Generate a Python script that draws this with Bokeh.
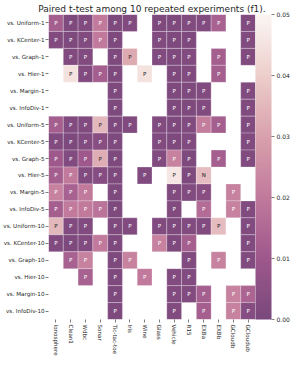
from bokeh.plotting import figure
from bokeh.models import ColumnDataSource, LinearColorMapper, ColorBar, FixedTicker, PrintfTickFormatter
from bokeh.core.properties import value
from bokeh.embed import file_html
from bokeh.resources import INLINE

title = "Paired t-test among 10 repeated experiments (f1)."

datasets = ["Ionosphere", "Clean1", "Wdbc", "Sonar", "Tic-tac-toe", "Iris", "Wine",
            "Glass", "Vehicle", "R15", "EXBa", "EXBb", "GCloudb", "GCloudub"]

comparisons = ["vs. Uniform-1", "vs. KCenter-1", "vs. Graph-1", "vs. Hier-1", "vs. Margin-1",
               "vs. InfoDiv-1", "vs. Uniform-5", "vs. KCenter-5", "vs. Graph-5", "vs. Hier-5",
               "vs. Margin-5", "vs. InfoDiv-5", "vs. Uniform-10", "vs. KCenter-10", "vs. Graph-10",
               "vs. Hier-10", "vs. Margin-10", "vs. InfoDiv-10"]

N = None
p_uniform_1  = [0.012, 0.001, 0.002, 0.020, 0.001, 0.002, N, 0.001, 0.001, 0.002, 0.002, 0.013, N, 0.002]
p_kcenter_1  = [0.002, 0.001, 0.002, 0.020, 0.001, N, N, 0.002, 0.001, 0.001, N, N, N, 0.002]
p_graph_1    = [N, 0.002, 0.002, N, 0.001, 0.032, N, 0.002, 0.001, 0.002, N, 0.012, N, 0.002]
p_hier_1     = [N, 0.045, 0.002, 0.012, 0.001, N, 0.045, N, 0.001, 0.002, N, 0.012, N, N]
p_margin_1   = [N, N, N, N, 0.001, N, N, N, 0.001, 0.001, 0.002, N, N, 0.002]
p_infodiv_1  = [N, N, N, N, 0.001, N, N, N, 0.001, 0.001, 0.002, N, N, 0.002]
p_uniform_5  = [0.012, 0.002, 0.002, 0.035, 0.001, 0.002, N, 0.002, 0.001, 0.002, 0.021, 0.012, N, 0.002]
p_kcenter_5  = [0.002, 0.001, 0.002, 0.004, 0.001, N, N, 0.002, 0.001, 0.002, N, N, N, 0.002]
p_graph_5    = [0.010, 0.002, 0.010, 0.033, 0.001, N, N, 0.002, 0.022, 0.001, N, 0.012, N, 0.002]
p_hier_5     = [0.012, 0.020, 0.002, 0.003, 0.001, N, 0.002, N, 0.046, 0.001, 0.036, N, N, N]
p_margin_5   = [0.022, 0.013, 0.020, N, 0.001, N, N, N, 0.002, 0.002, 0.004, N, 0.022, N]
p_infodiv_5  = [0.012, 0.020, 0.020, 0.018, 0.001, N, N, N, 0.002, N, 0.016, N, 0.022, 0.002]
p_uniform_10 = [0.035, 0.002, 0.002, N, 0.001, 0.002, N, 0.002, 0.001, 0.002, 0.002, 0.036, N, 0.002]
p_kcenter_10 = [0.002, 0.001, 0.002, 0.020, 0.001, N, N, 0.022, 0.001, 0.012, N, N, N, 0.002]
p_graph_10   = [N, 0.013, 0.022, N, 0.001, 0.022, N, N, N, 0.002, N, 0.022, N, 0.002]
p_hier_10    = [N, N, 0.013, N, 0.001, N, 0.020, N, 0.002, 0.002, N, N, N, N]
p_margin_10  = [N, N, N, N, 0.001, N, N, N, 0.002, 0.002, 0.012, N, 0.022, 0.014]
p_infodiv_10 = [N, N, N, N, 0.001, N, N, N, 0.002, N, 0.012, N, 0.022, 0.003]

p_values = [p_uniform_1, p_kcenter_1, p_graph_1, p_hier_1, p_margin_1, p_infodiv_1,
            p_uniform_5, p_kcenter_5, p_graph_5, p_hier_5, p_margin_5, p_infodiv_5,
            p_uniform_10, p_kcenter_10, p_graph_10, p_hier_10, p_margin_10, p_infodiv_10]

# significance marks: "P" everywhere except the single "N" cell
marks_n = [("vs. Hier-5", "EXBa")]

colorbar_ticks = [0.00, 0.01, 0.02, 0.03, 0.04, 0.05]

# colour map anchors (dark purple -> near white)
anchors = [(0.000, (122, 72, 124)), (0.010, (158, 88, 140)), (0.020, (193, 122, 156)),
           (0.030, (217, 161, 172)), (0.040, (237, 206, 203)), (0.050, (251, 246, 243))]


def build_palette(n=256):
    out = []
    for i in range(n):
        v = 0.05 * i / (n - 1)
        for (a, ca), (b, cb) in zip(anchors[:-1], anchors[1:]):
            if a <= v <= b:
                t = (v - a) / (b - a)
                c = [round(ca[k] + (cb[k] - ca[k]) * t) for k in range(3)]
                out.append("#%02x%02x%02x" % tuple(c))
                break
    return out


palette = build_palette()
mapper = LinearColorMapper(palette=palette, low=0.0, high=0.05)

xs, ys, vals, labs, tcols = [], [], [], [], []
for r, row in zip(comparisons, p_values):
    for c, v in zip(datasets, row):
        if v is None:
            continue
        xs.append(c)
        ys.append(r)
        vals.append(v)
        labs.append("N" if (r, c) in marks_n else "P")
        tcols.append("#262626" if v > 0.028 else "white")

src = ColumnDataSource(dict(x=xs, y=ys, v=vals, lab=labs, tc=tcols))

FONT = "DejaVu Sans"
p = figure(width=292, height=358, x_range=datasets, y_range=list(reversed(comparisons)),
           output_backend="svg", toolbar_location=None, title=title,
           min_border_left=0, min_border_right=0, min_border_top=0, min_border_bottom=0)
p.title.text_font = FONT
p.title.text_font_size = "9px"
p.title.text_font_style = "normal"
p.title.align = "center"
p.title.standoff = 2
p.title.text_color = "#262626"

p.rect(x="x", y="y", width=1, height=1, source=src,
       fill_color={"field": "v", "transform": mapper},
       line_color="white", line_width=0.6, line_alpha=0.45)
p.text(x="x", y="y", text="lab", source=src, text_align="center", text_baseline="middle",
       text_font_size="5.5px", text_color="tc", text_font=value(FONT))

for ax in (p.xaxis[0], p.yaxis[0]):
    ax.axis_line_color = None
    ax.major_tick_line_color = "#262626"
    ax.major_tick_line_width = 0.6
    ax.major_tick_out = 3
    ax.major_tick_in = 0
    ax.minor_tick_line_color = None
    ax.major_label_text_font = FONT
    ax.major_label_text_font_size = "5.6px"
    ax.major_label_text_color = "#262626"
    ax.major_label_standoff = 1
p.xaxis.major_label_orientation = "vertical"
p.xaxis.major_label_standoff = 2

p.grid.visible = False
p.outline_line_color = None
p.background_fill_color = "white"

cb = ColorBar(color_mapper=mapper, ticker=FixedTicker(ticks=colorbar_ticks),
              formatter=PrintfTickFormatter(format="%.2f"),
              width=16, padding=0, margin=12,
              major_label_text_font=FONT, major_label_text_font_size="6px",
              major_label_text_color="#262626",
              major_tick_line_color="#262626", major_tick_in=0, major_tick_out=3,
              major_tick_line_width=0.6, label_standoff=2,
              bar_line_color=None, border_line_color=None, background_fill_alpha=0)
p.add_layout(cb, "right")

open("out.html", "w").write(file_html(p, INLINE))
